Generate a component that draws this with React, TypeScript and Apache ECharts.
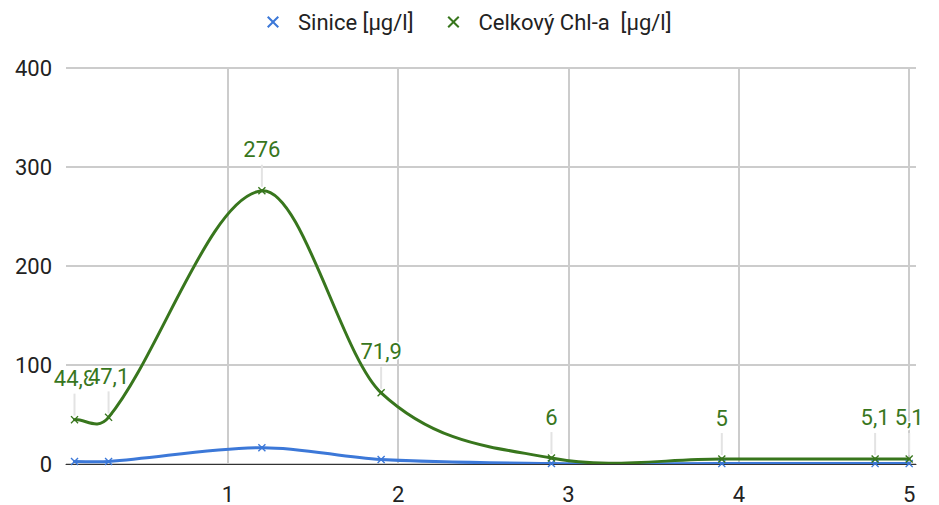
import React, { useEffect, useRef } from "react";
import * as echarts from "echarts";

const xValues = [0.1, 0.3, 1.2, 1.9, 2.9, 3.9, 4.8, 5.0];
const siniceValues = [2.5, 2.5, 16.5, 4.5, 0.5, 0.4, 0.4, 0.4];
const chlValues = [44.8, 47.1, 276, 71.9, 6, 5, 5.1, 5.1];
const seriesNames = ["Sinice [µg/l]", "Celkový Chl-a  [µg/l]"];
const xTicks = [1, 2, 3, 4, 5];
const yTicks = [0, 100, 200, 300, 400];

const BLUE = "#3c78d8";
const GREEN = "#38761d";
const X_ICON =
  "path://M0,1.2 L1.2,0 L5,3.8 L8.8,0 L10,1.2 L6.2,5 L10,8.8 L8.8,10 L5,6.2 L1.2,10 L0,8.8 L3.8,5 Z";

const fmt = (v: number) => String(v).replace(".", ",");
const FS = 22;

// slope (data units) at point k: central difference, one-sided at the ends
function slopeAt(ys: number[], k: number) {
  const n = xValues.length;
  const a = Math.max(0, k - 1);
  const b = Math.min(n - 1, k + 1);
  return (ys[b] - ys[a]) / (xValues[b] - xValues[a]);
}

// function-type smooth curve: cubic Hermite segments drawn as bezier curves
function curveSeries(ys: number[], color: string, z: number) {
  const data = xValues.slice(0, -1).map((x, i) => [x, ys[i]]);
  return {
    type: "custom",
    silent: true,
    z,
    clip: true,
    data,
    renderItem: (params: any, api: any) => {
      const i = params.dataIndex;
      const x0 = xValues[i], x1 = xValues[i + 1];
      const h = (x1 - x0) / 3;
      const a = api.coord([x0, ys[i]]);
      const b = api.coord([x1, ys[i + 1]]);
      const c1 = api.coord([x0 + h, ys[i] + slopeAt(ys, i) * h]);
      const c2 = api.coord([x1 - h, ys[i + 1] - slopeAt(ys, i + 1) * h]);
      return {
        type: "bezierCurve",
        shape: { x1: a[0], y1: a[1], x2: b[0], y2: b[1], cpx1: c1[0], cpy1: c1[1], cpx2: c2[0], cpy2: c2[1] },
        style: { stroke: color, lineWidth: 3, fill: null, lineCap: "round" },
      };
    },
  };
}

export default function App() {
  const ref = useRef<HTMLDivElement>(null);
  useEffect(() => {
    if (!ref.current) return;
    const chart = echarts.init(ref.current, null, { renderer: "svg" });
    const pts = (ys: number[]) => xValues.map((x, i) => [x, ys[i]]);
    chart.setOption({
      animation: false,
      textStyle: { fontFamily: "Roboto" },
      legend: {
        top: 6,
        left: 262,
        itemGap: 34,
        itemWidth: 12,
        itemHeight: 12,
        textStyle: { fontSize: FS, color: "#222", fontFamily: "Roboto", padding: [0, 0, 0, 14] },
        data: [
          { name: seriesNames[0], icon: X_ICON, itemStyle: { color: BLUE } },
          { name: seriesNames[1], icon: X_ICON, itemStyle: { color: GREEN } },
        ],
      },
      grid: { left: 66, right: 23, top: 68, bottom: 40, containLabel: false },
      xAxis: {
        type: "value",
        min: 0.05,
        max: 5.04,
        minInterval: 1,
        maxInterval: 1,
        axisLine: { show: true, onZero: true, lineStyle: { color: "#333", width: 1 } },
        axisTick: { show: false },
        axisLabel: {
          fontSize: FS,
          color: "#222",
          margin: 19,
          showMinLabel: false,
          showMaxLabel: false,
          formatter: (v: number) => (xTicks.includes(v) ? String(v) : ""),
        },
        splitLine: {
          show: true,
          showMinLine: false,
          showMaxLine: false,
          lineStyle: { color: "#cccccc", width: 2 },
        },
      },
      yAxis: {
        type: "value",
        min: yTicks[0],
        max: yTicks[yTicks.length - 1],
        interval: 100,
        axisLine: { show: false },
        axisTick: { show: false },
        axisLabel: { fontSize: FS, color: "#222", margin: 14 },
        splitLine: { lineStyle: { color: "#cccccc", width: 2 } },
      },
      series: [
        {
          type: "custom",
          silent: true,
          z: 1,
          data: pts(chlValues),
          renderItem: (params: any, api: any) => {
            const p = api.coord([api.value(0), api.value(1)]);
            return {
              type: "line",
              shape: { x1: p[0], y1: p[1] - 4, x2: p[0], y2: p[1] - 26 },
              style: { stroke: "#e3e3e3", lineWidth: 2 },
            };
          },
        },
        curveSeries(siniceValues, BLUE, 2),
        curveSeries(chlValues, GREEN, 3),
        {
          name: seriesNames[0],
          type: "line",
          data: pts(siniceValues),
          symbol: X_ICON,
          symbolSize: 8,
          lineStyle: { color: BLUE, width: 0, opacity: 0 },
          itemStyle: { color: BLUE },
          z: 4,
        },
        {
          name: seriesNames[1],
          type: "line",
          data: pts(chlValues),
          symbol: X_ICON,
          symbolSize: 8,
          lineStyle: { color: GREEN, width: 0, opacity: 0 },
          itemStyle: { color: GREEN },
          z: 5,
          label: {
            show: true,
            position: "top",
            distance: 26,
            fontSize: FS,
            color: GREEN,
            textBorderColor: "#fff",
            textBorderWidth: 3,
            formatter: (p: any) => fmt(p.value[1]),
          },
        },
      ],
    });
    return () => chart.dispose();
  }, []);
  return (
    <div
      ref={ref}
      style={{ position: "absolute", left: 0, top: 0, width: 939, height: 505 }}
    />
  );
}
